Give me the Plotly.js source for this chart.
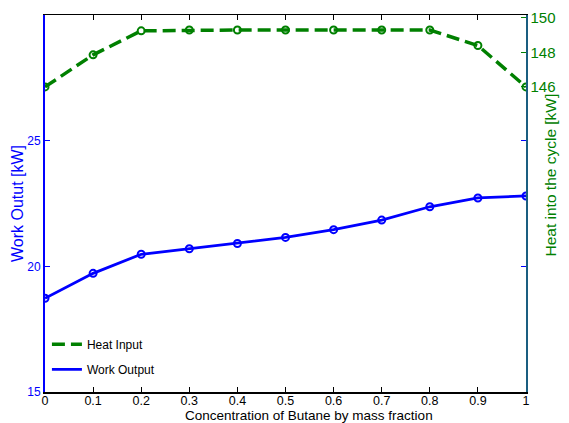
<!DOCTYPE html>
<html><head><meta charset="utf-8">
<script src="https://cdn.plot.ly/plotly-3.0.1.min.js"></script>
<style>html,body{margin:0;padding:0;background:#fff}#c{width:569px;height:423px}</style>
</head><body><div id="c"></div>
<script>
const butaneFraction = [0, 0.1, 0.2, 0.3, 0.4, 0.5, 0.6, 0.7, 0.8, 0.9, 1.0];
const workOutput = [18.73, 19.72, 20.48, 20.70, 20.91, 21.15, 21.46, 21.84, 22.37, 22.72, 22.80];
const heatInput = [146.0, 147.86, 149.25, 149.3, 149.3, 149.3, 149.3, 149.3, 149.3, 148.4, 146.0];
const xTicks = [0, 0.1, 0.2, 0.3, 0.4, 0.5, 0.6, 0.7, 0.8, 0.9, 1];
const xTickText = ['0','0.1','0.2','0.3','0.4','0.5','0.6','0.7','0.8','0.9','1'];
const leftTicks = [15, 20, 25];
const rightTicks = [146, 148, 150];
const seriesNames = ['Heat Input', 'Work Output'];

const green = '#008000', blue = '#0000ff';
const font = 'Liberation Sans, Arial, sans-serif';

const heatLine = {color: green, width: 3.5, dash: '13px,6px'};
const workLine = {color: blue, width: 2.8};

const traces = [
  {x: butaneFraction, y: heatInput, yaxis: 'y2', name: seriesNames[0], mode: 'lines+markers',
   showlegend: false, line: heatLine,
   marker: {symbol: 'circle-open', size: 7, color: green, line: {width: 2, color: green}}},
  {x: butaneFraction, y: workOutput, yaxis: 'y', name: seriesNames[1], mode: 'lines+markers',
   showlegend: false, line: workLine,
   marker: {symbol: 'circle-open', size: 7, color: blue, line: {width: 2, color: blue}}},
  // legend entries (lines only, as in the reference legend)
  {x: [null], y: [null], yaxis: 'y2', name: seriesNames[0], mode: 'lines', legendgroup: 'h', line: heatLine},
  {x: [null], y: [null], yaxis: 'y', name: seriesNames[1], mode: 'lines', legendgroup: 'w', line: workLine}
];

const layout = {
  width: 569, height: 423,
  margin: {l: 45, r: 43, t: 15, b: 31, pad: 0},
  paper_bgcolor: '#fff', plot_bgcolor: '#fff',
  font: {family: font, size: 12, color: '#000'},
  showlegend: true,
  legend: {x: 0.004, y: 0.165, xanchor: 'left', yanchor: 'top', bgcolor: 'rgba(0,0,0,0)',
           font: {family: font, size: 12, color: '#000'}, tracegroupgap: 6},
  xaxis: {range: [0, 1], tickvals: xTicks, ticktext: xTickText, ticks: 'inside', ticklen: 5,
          tickcolor: '#000', linecolor: '#000', linewidth: 1.5, showline: true, mirror: 'ticks',
          showgrid: false, zeroline: false, tickfont: {family: font, size: 12.5, color: '#000'},
          ticklabelstandoff: -4, automargin: false},
  yaxis: {range: [15, 30], tickvals: leftTicks, ticks: 'inside', ticklen: 5, tickcolor: blue,
          linecolor: blue, linewidth: 2, showline: true, mirror: 'ticks', showgrid: false,
          zeroline: false, tickfont: {family: font, size: 12, color: blue}, automargin: false,
          title: {text: 'Work Outut [kW]', standoff: 0, font: {family: font, size: 16, color: blue}}},
  yaxis2: {range: [128.3, 150.17], tickvals: rightTicks, overlaying: 'y', side: 'right',
           ticks: 'inside', ticklen: 5, tickcolor: green, linecolor: '#1a5e80', linewidth: 1.5,
           showline: true, showgrid: false, zeroline: false, automargin: false,
           tickfont: {family: font, size: 15, color: green}},
  annotations: [
    {text: 'Concentration of Butane by mass fraction', xref: 'paper', yref: 'paper',
     x: (309 - 45) / 481, y: 0, yanchor: 'top', yshift: -14, showarrow: false,
     font: {family: font, size: 13.5, color: '#000'}},
    {text: 'Heat into the cycle [kW]', xref: 'paper', yref: 'paper', x: 1, xshift: 34,
     y: (392 - 175) / 377, textangle: -90, showarrow: false,
     font: {family: font, size: 15.5, color: green}}]
};
Plotly.newPlot('c', traces, layout, {staticPlot: true});
</script></body></html>
